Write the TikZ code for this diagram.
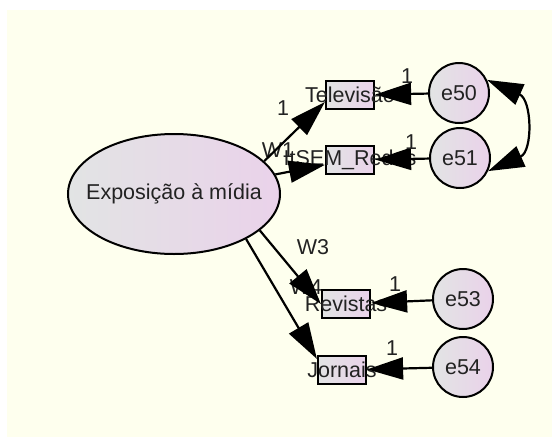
\documentclass[tikz,border=0pt]{standalone}
\usepackage{fontspec}
\setmainfont{Liberation Sans}
\usetikzlibrary{arrows.meta,shapes.geometric}
\definecolor{bgyellow}{RGB}{254,255,238}
\definecolor{shadeL}{RGB}{226,228,228}
\definecolor{shadeR}{RGB}{234,210,234}
\definecolor{txt}{RGB}{34,34,34}
\begin{document}
\begin{tikzpicture}[x=1pt,y=-1pt,
  lbl/.style={font=\fontsize{21.5}{24}\selectfont, text=txt, inner sep=0pt},
  shaded/.style={draw=black, left color=shadeL, right color=shadeR},
  obs/.style={shaded, rectangle, line width=2.2pt, minimum width=48pt, minimum height=28pt, inner sep=0pt},
  latent/.style={shaded, ellipse, line width=2pt, minimum width=212pt, minimum height=120pt, inner sep=0pt},
  err/.style={shaded, circle, line width=2pt, minimum size=60pt, inner sep=0pt, lbl},
  bigtip/.tip={Triangle[length=36pt 0,width=22pt 0]},
  loading/.style={line width=2.2pt, -bigtip},
  epath/.style={line width=2.2pt, -bigtip},
  cov/.style={line width=2.2pt, bigtip-bigtip}]

\path[use as bounding box] (0,0) rectangle (552,437);
\fill[bgyellow] (7,10) rectangle (552,437);

% regression weight labels lying under the boxes
\node[lbl] (w1) at (278,150) {W1};
\node[lbl] (w3) at (313,247) {W3};
\node[lbl] (w4) at (306,287) {W4};

% observed variables
\node[obs, label={[lbl]center:Televisão}] (tv) at (350,95) {};
\node[obs, label={[lbl]center:ItSEM\_Redes}] (redes) at (350,160) {};
\node[obs, label={[lbl]center:Revistas}] (rev) at (346,304) {};
\node[obs, label={[lbl]center:Jornais}] (jor) at (342,370) {};

% latent factor
\node[latent, label={[lbl]center:Exposição à mídia}] (exp) at (174,194) {};

% error terms
\node[err] (e50) at (459,93) {e50};
\node[err] (e51) at (460,158) {e51};
\node[err] (e53) at (463,299) {e53};
\node[err] (e54) at (463,367) {e54};

% factor loadings
\draw[loading] (exp.20) -- ([yshift=-7pt]tv.west);
\draw[loading] (exp) -- (redes);
\draw[loading] (exp.-23) -- (rev.west);
\draw[loading] (exp.-32) -- ([yshift=-4pt]jor.north west);

% error paths
\draw[epath] (e50) -- (tv);
\draw[epath] (e51) -- (redes);
\draw[epath] (e53) -- (rev);
\draw[epath] (e54) -- (jor);

% error covariance
\draw[cov] (e50.25) .. controls +(45,20) and +(45,-20) .. (e51.-25);

% fixed parameter labels
\node[lbl] (f1) at (283,108) {1};
\node[lbl] (f50) at (407,76) {1};
\node[lbl] (f51) at (411,142) {1};
\node[lbl] (f53) at (395,284) {1};
\node[lbl] (f54) at (392,348) {1};
\end{tikzpicture}
\end{document}
